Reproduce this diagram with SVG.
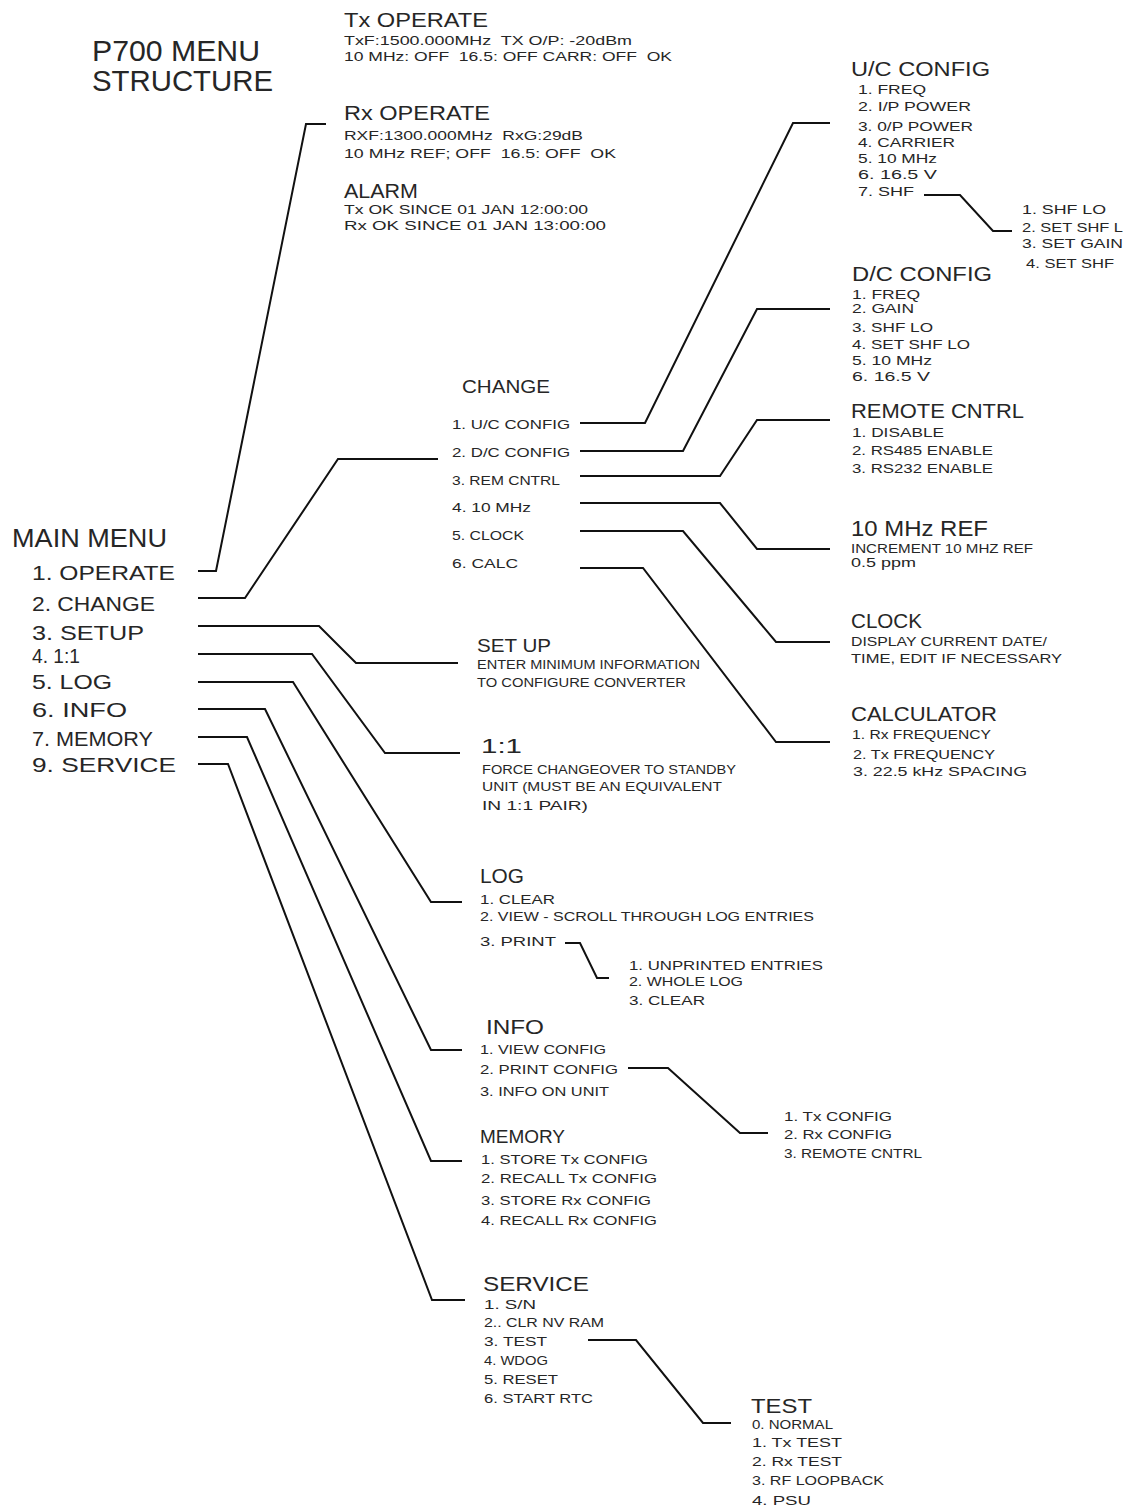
<svg xmlns="http://www.w3.org/2000/svg" width="1127" height="1510" viewBox="0 0 1127 1510">
<style>
text{font-family:"Liberation Sans",Arial,Helvetica,sans-serif;fill:#262626;white-space:pre}
.h{font-size:21px}
.s{font-size:13.5px}
.m{font-size:21px}
.c path{fill:none;stroke:#111;stroke-width:2;stroke-linejoin:miter}
</style>
<rect width="1127" height="1510" fill="#fff"/>
<g id="title">
<text x="92" y="61" style="font-size:30px" textLength="168" lengthAdjust="spacingAndGlyphs">P700 MENU</text>
<text x="92" y="91" style="font-size:30px" textLength="181" lengthAdjust="spacingAndGlyphs">STRUCTURE</text>
</g>
<g id="tx-operate">
<text class="h" x="344" y="27" textLength="144" lengthAdjust="spacingAndGlyphs">Tx OPERATE</text>
<text class="s" x="344" y="45" textLength="288" lengthAdjust="spacingAndGlyphs" xml:space="preserve">TxF:1500.000MHz  TX O/P: -20dBm</text>
<text class="s" x="344" y="61" textLength="328" lengthAdjust="spacingAndGlyphs" xml:space="preserve">10 MHz: OFF  16.5: OFF CARR: OFF  OK</text>
</g>
<g id="rx-operate">
<text class="h" x="344" y="120" textLength="146" lengthAdjust="spacingAndGlyphs">Rx OPERATE</text>
<text class="s" x="344" y="140" textLength="239" lengthAdjust="spacingAndGlyphs" xml:space="preserve">RXF:1300.000MHz  RxG:29dB</text>
<text class="s" x="344" y="158" textLength="272" lengthAdjust="spacingAndGlyphs" xml:space="preserve">10 MHz REF; OFF  16.5: OFF  OK</text>
</g>
<g id="alarm">
<text class="h" x="344" y="198" textLength="74" lengthAdjust="spacingAndGlyphs">ALARM</text>
<text class="s" x="344" y="214" textLength="244" lengthAdjust="spacingAndGlyphs">Tx OK SINCE 01 JAN 12:00:00</text>
<text class="s" x="344" y="230" textLength="262" lengthAdjust="spacingAndGlyphs">Rx OK SINCE 01 JAN 13:00:00</text>
</g>
<g id="uc-config">
<text class="h" x="851" y="76" textLength="139" lengthAdjust="spacingAndGlyphs">U/C CONFIG</text>
<text class="s" x="858" y="94" textLength="68" lengthAdjust="spacingAndGlyphs">1. FREQ</text>
<text class="s" x="858" y="111" textLength="113" lengthAdjust="spacingAndGlyphs">2. I/P POWER</text>
<text class="s" x="858" y="131" textLength="115" lengthAdjust="spacingAndGlyphs">3. 0/P POWER</text>
<text class="s" x="858" y="147" textLength="97" lengthAdjust="spacingAndGlyphs">4. CARRIER</text>
<text class="s" x="858" y="163" textLength="79" lengthAdjust="spacingAndGlyphs">5. 10 MHz</text>
<text class="s" x="858" y="179" textLength="79" lengthAdjust="spacingAndGlyphs">6. 16.5 V</text>
<text class="s" x="858" y="196" textLength="56" lengthAdjust="spacingAndGlyphs">7. SHF</text>
</g>
<g id="shf">
<text class="s" x="1022" y="214" textLength="84" lengthAdjust="spacingAndGlyphs">1. SHF LO</text>
<text class="s" x="1022" y="232" textLength="101" lengthAdjust="spacingAndGlyphs">2. SET SHF L</text>
<text class="s" x="1022" y="248" textLength="101" lengthAdjust="spacingAndGlyphs">3. SET GAIN</text>
<text class="s" x="1026" y="268" textLength="88" lengthAdjust="spacingAndGlyphs">4. SET SHF</text>
</g>
<g id="dc-config">
<text class="h" x="852" y="281" textLength="140" lengthAdjust="spacingAndGlyphs">D/C CONFIG</text>
<text class="s" x="852" y="299" textLength="68" lengthAdjust="spacingAndGlyphs">1. FREQ</text>
<text class="s" x="852" y="313" textLength="62" lengthAdjust="spacingAndGlyphs">2. GAIN</text>
<text class="s" x="852" y="332" textLength="81" lengthAdjust="spacingAndGlyphs">3. SHF LO</text>
<text class="s" x="852" y="349" textLength="118" lengthAdjust="spacingAndGlyphs">4. SET SHF LO</text>
<text class="s" x="852" y="365" textLength="80" lengthAdjust="spacingAndGlyphs">5. 10 MHz</text>
<text class="s" x="852" y="381" textLength="78" lengthAdjust="spacingAndGlyphs">6. 16.5 V</text>
</g>
<g id="remote-cntrl">
<text class="h" x="851" y="418" textLength="173" lengthAdjust="spacingAndGlyphs">REMOTE CNTRL</text>
<text class="s" x="852" y="437" textLength="92" lengthAdjust="spacingAndGlyphs">1. DISABLE</text>
<text class="s" x="852" y="455" textLength="141" lengthAdjust="spacingAndGlyphs">2. RS485 ENABLE</text>
<text class="s" x="852" y="473" textLength="141" lengthAdjust="spacingAndGlyphs">3. RS232 ENABLE</text>
</g>
<g id="change">
<text style="font-size:19px" x="462" y="393" textLength="88" lengthAdjust="spacingAndGlyphs">CHANGE</text>
<text class="s" x="452" y="429" textLength="118" lengthAdjust="spacingAndGlyphs">1. U/C CONFIG</text>
<text class="s" x="452" y="457" textLength="118" lengthAdjust="spacingAndGlyphs">2. D/C CONFIG</text>
<text class="s" x="452" y="485" textLength="108" lengthAdjust="spacingAndGlyphs">3. REM CNTRL</text>
<text class="s" x="452" y="512" textLength="79" lengthAdjust="spacingAndGlyphs">4. 10 MHz</text>
<text class="s" x="452" y="540" textLength="72" lengthAdjust="spacingAndGlyphs">5. CLOCK</text>
<text class="s" x="452" y="568" textLength="66" lengthAdjust="spacingAndGlyphs">6. CALC</text>
</g>
<g id="ten-mhz-ref">
<text style="font-size:22px" x="851" y="536" textLength="137" lengthAdjust="spacingAndGlyphs">10 MHz REF</text>
<text style="font-size:12.5px" x="851" y="553" textLength="182" lengthAdjust="spacingAndGlyphs">INCREMENT 10 MHZ REF</text>
<text style="font-size:12.5px" x="851" y="567" textLength="65" lengthAdjust="spacingAndGlyphs">0.5 ppm</text>
</g>
<g id="clock">
<text class="h" x="851" y="628" textLength="71" lengthAdjust="spacingAndGlyphs">CLOCK</text>
<text style="font-size:13px" x="851" y="646" textLength="196" lengthAdjust="spacingAndGlyphs">DISPLAY CURRENT DATE/</text>
<text style="font-size:13px" x="851" y="663" textLength="211" lengthAdjust="spacingAndGlyphs">TIME, EDIT IF NECESSARY</text>
</g>
<g id="calculator">
<text class="h" x="851" y="721" textLength="146" lengthAdjust="spacingAndGlyphs">CALCULATOR</text>
<text style="font-size:13px" x="852" y="739" textLength="139" lengthAdjust="spacingAndGlyphs">1. Rx FREQUENCY</text>
<text style="font-size:13px" x="853" y="759" textLength="142" lengthAdjust="spacingAndGlyphs">2. Tx FREQUENCY</text>
<text style="font-size:13px" x="853" y="776" textLength="174" lengthAdjust="spacingAndGlyphs">3. 22.5 kHz SPACING</text>
</g>
<g id="setup">
<text style="font-size:19px" x="477" y="652" textLength="74" lengthAdjust="spacingAndGlyphs">SET UP</text>
<text style="font-size:12.5px" x="477" y="669" textLength="223" lengthAdjust="spacingAndGlyphs">ENTER MINIMUM INFORMATION</text>
<text style="font-size:12.5px" x="477" y="687" textLength="209" lengthAdjust="spacingAndGlyphs">TO CONFIGURE CONVERTER</text>
</g>
<g id="one-to-one">
<text class="h" x="481" y="753" textLength="41" lengthAdjust="spacingAndGlyphs">1:1</text>
<text style="font-size:12.5px" x="482" y="774" textLength="254" lengthAdjust="spacingAndGlyphs">FORCE CHANGEOVER TO STANDBY</text>
<text style="font-size:12.5px" x="482" y="791" textLength="240" lengthAdjust="spacingAndGlyphs">UNIT (MUST BE AN EQUIVALENT</text>
<text style="font-size:12.5px" x="482" y="810" textLength="106" lengthAdjust="spacingAndGlyphs">IN 1:1 PAIR)</text>
</g>
<g id="main-menu">
<text style="font-size:25px" x="12" y="547" textLength="155" lengthAdjust="spacingAndGlyphs">MAIN MENU</text>
<text class="m" x="32" y="580" textLength="143" lengthAdjust="spacingAndGlyphs">1. OPERATE</text>
<text class="m" x="32" y="611" textLength="123" lengthAdjust="spacingAndGlyphs">2. CHANGE</text>
<text class="m" x="32" y="640" textLength="112" lengthAdjust="spacingAndGlyphs">3. SETUP</text>
<text class="m" x="32" y="663" textLength="48" lengthAdjust="spacingAndGlyphs">4. 1:1</text>
<text class="m" x="32" y="689" textLength="80" lengthAdjust="spacingAndGlyphs">5. LOG</text>
<text class="m" x="32" y="717" textLength="95" lengthAdjust="spacingAndGlyphs">6. INFO</text>
<text class="m" x="32" y="746" textLength="121" lengthAdjust="spacingAndGlyphs">7. MEMORY</text>
<text class="m" x="32" y="772" textLength="144" lengthAdjust="spacingAndGlyphs">9. SERVICE</text>
</g>
<g id="log">
<text class="h" x="480" y="883" textLength="44" lengthAdjust="spacingAndGlyphs">LOG</text>
<text class="s" x="480" y="904" textLength="75" lengthAdjust="spacingAndGlyphs">1. CLEAR</text>
<text class="s" x="480" y="921" textLength="334" lengthAdjust="spacingAndGlyphs">2. VIEW - SCROLL THROUGH LOG ENTRIES</text>
<text class="s" x="480" y="946" textLength="76" lengthAdjust="spacingAndGlyphs">3. PRINT</text>
</g>
<g id="print">
<text class="s" x="629" y="970" textLength="194" lengthAdjust="spacingAndGlyphs">1. UNPRINTED ENTRIES</text>
<text class="s" x="629" y="986" textLength="114" lengthAdjust="spacingAndGlyphs">2. WHOLE LOG</text>
<text class="s" x="629" y="1005" textLength="76" lengthAdjust="spacingAndGlyphs">3. CLEAR</text>
</g>
<g id="info">
<text class="h" x="486" y="1034" textLength="58" lengthAdjust="spacingAndGlyphs">INFO</text>
<text class="s" x="480" y="1054" textLength="126" lengthAdjust="spacingAndGlyphs">1. VIEW CONFIG</text>
<text class="s" x="480" y="1074" textLength="138" lengthAdjust="spacingAndGlyphs">2. PRINT CONFIG</text>
<text class="s" x="480" y="1096" textLength="129" lengthAdjust="spacingAndGlyphs">3. INFO ON UNIT</text>
</g>
<g id="print-config">
<text class="s" x="784" y="1121" textLength="108" lengthAdjust="spacingAndGlyphs">1. Tx CONFIG</text>
<text class="s" x="784" y="1139" textLength="108" lengthAdjust="spacingAndGlyphs">2. Rx CONFIG</text>
<text class="s" x="784" y="1158" textLength="138" lengthAdjust="spacingAndGlyphs">3. REMOTE CNTRL</text>
</g>
<g id="memory">
<text style="font-size:19px" x="480" y="1143" textLength="85" lengthAdjust="spacingAndGlyphs">MEMORY</text>
<text class="s" x="481" y="1164" textLength="167" lengthAdjust="spacingAndGlyphs">1. STORE Tx CONFIG</text>
<text class="s" x="481" y="1183" textLength="176" lengthAdjust="spacingAndGlyphs">2. RECALL Tx CONFIG</text>
<text class="s" x="481" y="1205" textLength="170" lengthAdjust="spacingAndGlyphs">3. STORE Rx CONFIG</text>
<text class="s" x="481" y="1225" textLength="176" lengthAdjust="spacingAndGlyphs">4. RECALL Rx CONFIG</text>
</g>
<g id="service">
<text class="h" x="483" y="1291" textLength="106" lengthAdjust="spacingAndGlyphs">SERVICE</text>
<text class="s" x="484" y="1309" textLength="52" lengthAdjust="spacingAndGlyphs">1. S/N</text>
<text class="s" x="484" y="1327" textLength="120" lengthAdjust="spacingAndGlyphs">2.. CLR NV RAM</text>
<text class="s" x="484" y="1346" textLength="63" lengthAdjust="spacingAndGlyphs">3. TEST</text>
<text class="s" x="484" y="1365" textLength="64" lengthAdjust="spacingAndGlyphs">4. WDOG</text>
<text class="s" x="484" y="1384" textLength="74" lengthAdjust="spacingAndGlyphs">5. RESET</text>
<text class="s" x="484" y="1403" textLength="109" lengthAdjust="spacingAndGlyphs">6. START RTC</text>
</g>
<g id="test">
<text class="h" x="751" y="1413" textLength="61" lengthAdjust="spacingAndGlyphs">TEST</text>
<text class="s" x="752" y="1429" textLength="81" lengthAdjust="spacingAndGlyphs">0. NORMAL</text>
<text class="s" x="752" y="1447" textLength="90" lengthAdjust="spacingAndGlyphs">1. Tx TEST</text>
<text class="s" x="752" y="1466" textLength="90" lengthAdjust="spacingAndGlyphs">2. Rx TEST</text>
<text class="s" x="752" y="1485" textLength="132" lengthAdjust="spacingAndGlyphs">3. RF LOOPBACK</text>
<text class="s" x="752" y="1505" textLength="59" lengthAdjust="spacingAndGlyphs">4. PSU</text>
</g>
<g id="connectors" class="c">
<path d="M198 571 H216 L306 124 H326"/>
<path d="M198 598 H245 L338 459 H438"/>
<path d="M198 626 H319 L356 663 H458"/>
<path d="M198 654 H312 L385 753 H460"/>
<path d="M198 682 H293 L431 902 H462"/>
<path d="M198 709 H265 L431 1050 H462"/>
<path d="M198 737 H247 L431 1161 H462"/>
<path d="M198 764 H228 L432 1300 H465"/>
<path d="M580 423 H645 L793 123 H830"/>
<path d="M580 451 H683 L757 309 H830"/>
<path d="M580 476 H720 L757 420 H830"/>
<path d="M580 503 H720 L757 549 H830"/>
<path d="M580 531 H683 L776 642 H830"/>
<path d="M580 568 H643 L776 742 H830"/>
<path d="M924 195 H960 L993 231 H1012"/>
<path d="M565 943 H580 L597 978 H609"/>
<path d="M628 1068 H668 L740 1133 H768"/>
<path d="M588 1340 H636 L703 1423 H731"/>
</g>
</svg>
